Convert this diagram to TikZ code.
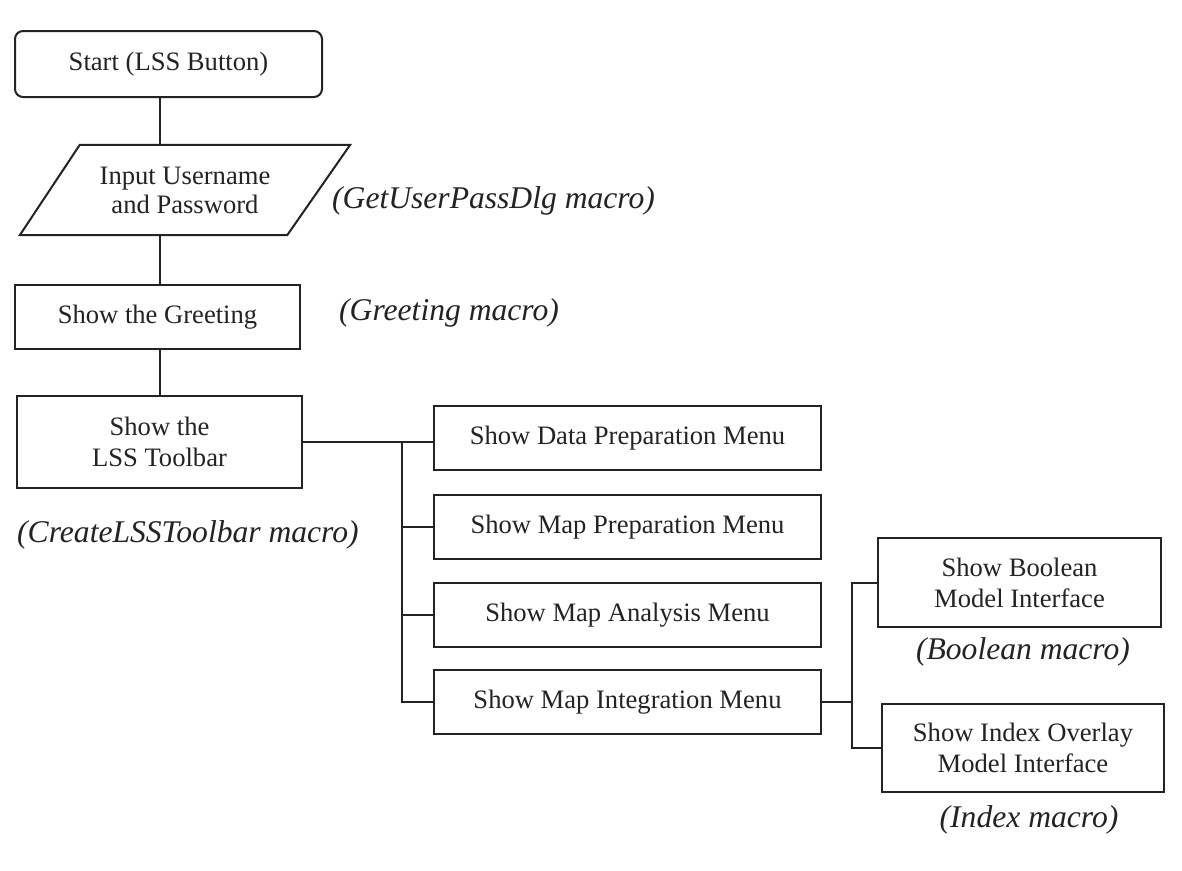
\documentclass[tikz,border=0pt]{standalone}
\usepackage{fontspec}
\setmainfont{Liberation Serif}
\usetikzlibrary{calc}

\definecolor{ink}{RGB}{35,35,35}

\tikzset{
  box/.style={draw=ink, line width=2pt, text=ink, inner sep=0pt, align=center,
    font=\fontsize{26.6}{31}\selectfont},
  startbox/.style={box, rounded corners=8pt},
  iobox/.style={text=ink, inner sep=0pt, align=center,
    font=\fontsize{26.6}{23}\selectfont},
  macrolabel/.style={text=ink, inner sep=0pt,
    font=\fontsize{31.6}{36}\selectfont\itshape},
  wire/.style={draw=ink, line width=2pt}
}

\begin{document}
\begin{tikzpicture}[x=1pt, y=-1pt]
  \useasboundingbox[fill=white] (0,0) rectangle (1182,870);

  % main sequence
  \node[startbox, minimum width=307pt, minimum height=66pt] (start) at (168.5,64) {Start (LSS Button)};
  \node[iobox, minimum width=330pt, minimum height=90pt] (input) at (185,190) {Input Username\\[4pt]and Password};
  \draw[wire, line join=miter]
    ($(input.north west)+(60,0)$) -- (input.north east)
    -- ($(input.south east)+(-63,0)$) -- (input.south west) -- cycle;
  \node[box, minimum width=285pt, minimum height=64pt] (greet) at (157.5,317) {Show the Greeting};
  \node[box, minimum width=285pt, minimum height=92pt] (toolbar) at (159.5,442) {Show the\\LSS Toolbar};

  % macro names
  \node[macrolabel, anchor=west] (userlbl) at (332,201) {(GetUserPassDlg macro)};
  \node[macrolabel, anchor=west] (greetlbl) at (339,313) {(Greeting macro)};
  \node[macrolabel, anchor=west] (toollbl) at (17,535) {(CreateLSSToolbar macro)};

  % toolbar menus
  \node[box, minimum width=387pt, minimum height=64pt] (data) at (627.5,438) {Show Data Preparation Menu};
  \node[box, minimum width=387pt, minimum height=64pt] (prep) at (627.5,527) {Show Map Preparation Menu};
  \node[box, minimum width=387pt, minimum height=64pt] (ana) at (627.5,615) {Show Map Analysis Menu};
  \node[box, minimum width=387pt, minimum height=64pt] (integ) at (627.5,702) {Show Map Integration Menu};

  % integration models
  \node[box, minimum width=283pt, minimum height=89pt] (bool) at (1019.5,582.5) {Show Boolean\\Model Interface};
  \node[box, minimum width=282pt, minimum height=88pt] (index) at (1023,748) {Show Index Overlay\\Model Interface};
  \node[macrolabel] (boollbl) at (1023,652) {(Boolean macro)};
  \node[macrolabel] (indexlbl) at (1029,820) {(Index macro)};

  % vertical flow
  \draw[wire] (start.south -| 160,0) -- (input.north -| 160,0);
  \draw[wire] (input.south -| 160,0) -- (greet.north -| 160,0);
  \draw[wire] (greet.south -| 160,0) -- (toolbar.north -| 160,0);

  % menu bus
  \coordinate (busa) at (402,442);
  \draw[wire] (toolbar.east) -- (data.west |- toolbar.east);
  \draw[wire] (busa) |- (integ.west);
  \draw[wire] (busa |- prep.west) -- (prep.west);
  \draw[wire] (busa |- ana.west) -- (ana.west);

  % model bus
  \coordinate (busb) at (852,702);
  \draw[wire] (integ.east) -- (busb);
  \draw[wire] (bool.west) -| (busb) |- (index.west);
\end{tikzpicture}
\end{document}
